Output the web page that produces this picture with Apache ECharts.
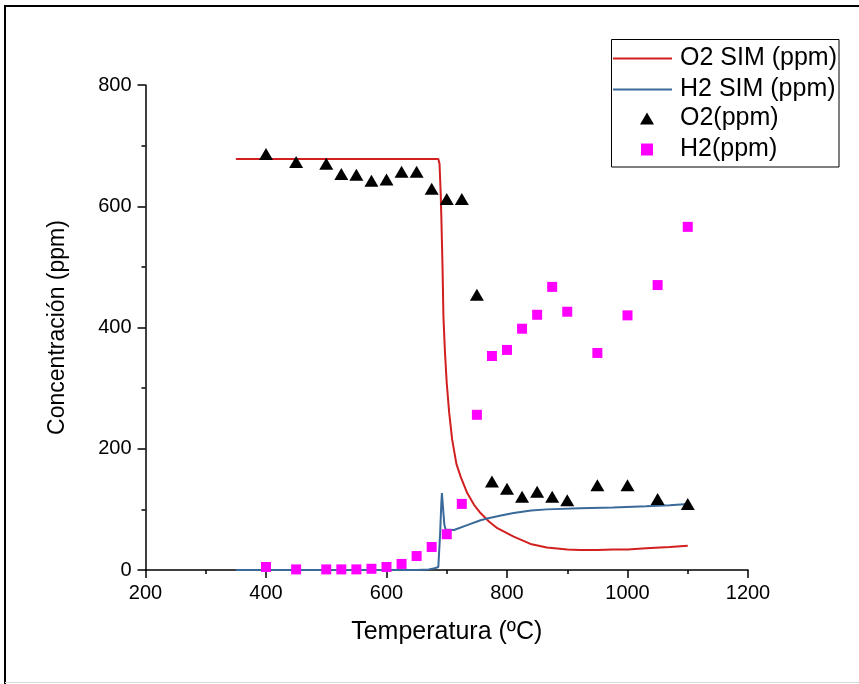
<!DOCTYPE html>
<html>
<head>
<meta charset="utf-8">
<script src="https://cdn.jsdelivr.net/npm/echarts@6/dist/echarts.min.js"></script>
<style>
html,body{margin:0;padding:0;background:#fff;}
#chart{width:859px;height:684px;}
</style>
</head>
<body>
<div id="chart"></div>
<script>
// ---- data ----
const o2ExpX = [400,450,500,525,550,575,600,625,650,675,700,725,750,775,800,825,850,875,900,950,1000,1050,1100];
const o2ExpY = [686,673,670,653,652,642,644,657,657,629,612,612,454,146,134,121,129,121,115,140,140,117,109];
const h2ExpX = [400,450,500,525,550,575,600,625,650,675,700,725,750,775,800,825,850,875,900,950,1000,1050,1100];
const h2ExpY = [5,1,1,1,1,2,5,10,23,38,59,109,256,353,363,398,421,467,426,358,420,470,566];

const o2SimX = [350,500,600,686,688,690,691,693,694.5,697,700,704,709,716,723,734,745,756,770,784,811,839,866,900,921,950,976,1000,1031,1070,1100];
const o2SimY = [678,678,678,678,670,620,583,500,418,360,308,260,215,175,154,127,108,94,80,69,55,43,37,34,33,33,34,34,36,38,40];
const h2SimX = [350,500,600,650,670,680,686,689,691,692,694,696,698,700,712,734,756,767,790,811,840,866,921,976,1031,1070,1100];
const h2SimY = [0,0,0,0,1,3,5,60,110,127,100,75,67,66,66,74,82,85,90,94,98,100,102,103,105,107,109];

const xTicks = [200,400,600,800,1000,1200];
const yTicks = [0,200,400,600,800];

const zip = (xs, ys) => xs.map((x, i) => [x, ys[i]]);

const font = "'Liberation Sans', Arial, sans-serif";
const legendText = {fontFamily: font, fontSize: 25, color: '#000', lineHeight: 24};
const chart = echarts.init(document.getElementById('chart'), null, {renderer: 'canvas'});

chart.setOption({
  animation: false,
  backgroundColor: '#fff',
  grid: {left: 145.5, right: 111, top: 85, bottom: 114, containLabel: false},
  graphic: [
    {type: 'line', shape: {x1: 4, y1: 6, x2: 859, y2: 6}, style: {stroke: '#000', lineWidth: 2}},
    {type: 'line', shape: {x1: 5, y1: 5, x2: 5, y2: 684}, style: {stroke: '#000', lineWidth: 2}},
    {type: 'line', shape: {x1: 5, y1: 682.5, x2: 859, y2: 682.5}, style: {stroke: '#d8d8d8', lineWidth: 1}},
    {type: 'rect', shape: {x: 611.5, y: 39.5, width: 227.5, height: 127.5},
      style: {fill: 'none', stroke: '#000', lineWidth: 1}, z: 10}
  ],
  legend: [
    {
      orient: 'vertical', left: 613, top: 46, padding: 0,
      itemGap: 6, itemWidth: 59, itemHeight: 2,
      textStyle: Object.assign({}, legendText, {padding: [0, 0, 0, 3]}),
      data: [
        {name: 'O2 SIM (ppm)', icon: 'rect'},
        {name: 'H2 SIM (ppm)', icon: 'rect'}
      ]
    },
    {
      orient: 'vertical', left: 640, top: 106, padding: 0,
      itemGap: 6, itemWidth: 14, itemHeight: 12,
      textStyle: Object.assign({}, legendText, {padding: [0, 0, 0, 21]}),
      data: [
        {name: 'O2(ppm)', icon: 'triangle'},
        {name: 'H2(ppm)', icon: 'path://M0,0 L10,0 L10,10 L0,10 Z'}
      ]
    }
  ],
  xAxis: {
    type: 'value', min: 200, max: 1200, interval: 200,
    name: 'Temperatura (\u00baC)', nameLocation: 'middle', nameGap: 50,
    nameTextStyle: {fontFamily: font, fontSize: 25, color: '#000'},
    axisLine: {lineStyle: {color: '#000', width: 1.5}},
    axisTick: {show: true, inside: false, length: 8, lineStyle: {color: '#000', width: 1.5}},
    minorTick: {show: true, splitNumber: 2, length: 4, lineStyle: {color: '#000', width: 1.5}},
    axisLabel: {fontFamily: font, fontSize: 20, color: '#000', margin: 13,
      formatter: v => xTicks.includes(v) ? String(v) : ''},
    splitLine: {show: false}
  },
  yAxis: {
    type: 'value', min: 0, max: 800, interval: 200,
    name: 'Concentraci\u00f3n (ppm)', nameLocation: 'middle', nameGap: 76,
    nameTextStyle: {fontFamily: font, fontSize: 23, color: '#000'},
    axisLine: {show: true, lineStyle: {color: '#000', width: 1.5}},
    axisTick: {show: true, inside: false, length: 8, lineStyle: {color: '#000', width: 1.5}},
    minorTick: {show: true, splitNumber: 2, length: 4, lineStyle: {color: '#000', width: 1.5}},
    axisLabel: {fontFamily: font, fontSize: 20, color: '#000', margin: 14,
      formatter: v => yTicks.includes(v) ? String(v) : ''},
    splitLine: {show: false}
  },
  series: [
    {
      name: 'O2 SIM (ppm)', type: 'line', data: zip(o2SimX, o2SimY),
      showSymbol: false, symbol: 'none', smooth: false,
      lineStyle: {color: '#d21f1f', width: 2}, itemStyle: {color: '#d21f1f'}, z: 2
    },
    {
      name: 'H2 SIM (ppm)', type: 'line', data: zip(h2SimX, h2SimY),
      showSymbol: false, symbol: 'none', smooth: false,
      lineStyle: {color: '#3a6a9a', width: 2}, itemStyle: {color: '#3a6a9a'}, z: 2
    },
    {
      name: 'O2(ppm)', type: 'scatter', data: zip(o2ExpX, o2ExpY),
      symbol: 'triangle', symbolSize: [14, 12],
      itemStyle: {color: '#000', opacity: 1}, z: 3
    },
    {
      name: 'H2(ppm)', type: 'scatter', data: zip(h2ExpX, h2ExpY),
      symbol: 'rect', symbolSize: 10,
      itemStyle: {color: '#ff00ff', opacity: 1}, z: 3
    }
  ]
});
</script>
</body>
</html>
